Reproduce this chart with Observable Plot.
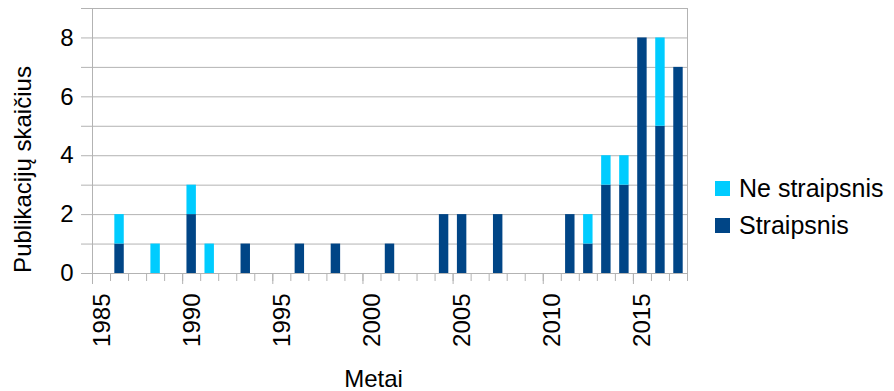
<!DOCTYPE html>
<html>
<head>
<meta charset="utf-8">
<script src="https://cdn.jsdelivr.net/npm/d3@7"></script>
<script src="https://cdn.jsdelivr.net/npm/@observablehq/plot@0.6"></script>
<style>
  body { margin: 0; background: #fff; font-family: "Liberation Sans", Arial, sans-serif; }
  #chart { position: relative; width: 894px; height: 391px; }
  .legend { position: absolute; left: 715px; top: 170px; font-size: 25px; color: #000; }
  .legend .row { display: flex; align-items: center; height: 37px; }
  .legend .sw { width: 15px; height: 15px; margin-right: 9px; }
</style>
</head>
<body>
<div id="chart"></div>
<script>
// Publications per year, split by type
const years        = [1986, 1988, 1990, 1991, 1993, 1996, 1998, 2001, 2004, 2005, 2007, 2011, 2012, 2013, 2014, 2015, 2016, 2017];
const straipsnis   = [1,    0,    2,    0,    1,    1,    1,    1,    2,    2,    2,    2,    1,    3,    3,    8,    5,    7];
const neStraipsnis = [1,    1,    1,    1,    0,    0,    0,    0,    0,    0,    0,    0,    1,    1,    1,    0,    3,    0];

const seriesNames  = ["Straipsnis", "Ne straipsnis"];
const seriesColors = ["#004586", "#00ccff"];
const legendOrder  = ["Ne straipsnis", "Straipsnis"];

const yearLabels  = [1985, 1990, 1995, 2000, 2005, 2010, 2015];
const countLabels = [0, 2, 4, 6, 8];
const yTitle = "Publikacijų skaičius";
const xTitle = "Metai";

const rows = years.flatMap((year, i) => [
  {year, type: seriesNames[0], count: straipsnis[i]},
  {year, type: seriesNames[1], count: neStraipsnis[i]}
]);

const grey = "#b3b3b3";

const chart = Plot.plot({
  width: 894,
  height: 391,
  marginLeft: 92,
  marginRight: 207,
  marginTop: 8,
  marginBottom: 118,
  style: {fontFamily: "'Liberation Sans', Arial, sans-serif", fontSize: "24px", color: "#000", background: "#fff", overflow: "visible"},
  x: {domain: [1985, 2018], axis: null},
  y: {domain: [0, 9], axis: null},
  color: {domain: seriesNames, range: seriesColors},
  marks: [
    Plot.gridY(d3.range(0, 10), {stroke: grey, strokeOpacity: 1}),
    Plot.ruleX([1985, 2018], {stroke: grey}),
    // minor and major ticks
    Plot.axisY({ticks: d3.range(0, 10), tickSize: 11, text: null, label: null, stroke: grey}),
    Plot.axisX({ticks: d3.range(1985, 2019), tickSize: 8, text: null, label: null, stroke: grey}),
    Plot.axisX({ticks: yearLabels, tickSize: 11, text: null, label: null, stroke: grey}),
    // stacked bars, one per year
    Plot.rectY(rows, Plot.stackY({
      x1: "year",
      x2: d => d.year + 1,
      y: "count",
      fill: "type",
      order: seriesNames,
      insetLeft: 4.3,
      insetRight: 4.3
    })),
    // tick labels
    Plot.text(countLabels, {y: d => d, frameAnchor: "left", text: d => String(d), textAnchor: "end", dx: -19, fill: "#000"}),
    Plot.text(yearLabels, {x: d => d, frameAnchor: "bottom", text: d => String(d), rotate: -90, textAnchor: "end", lineAnchor: "top", dy: 20, fill: "#000"}),
    // axis titles
    Plot.text([yTitle], {frameAnchor: "left", rotate: -90, textAnchor: "middle", lineAnchor: "top", dx: -78.5, dy: 28.5, fill: "#000"}),
    Plot.text([xTitle], {frameAnchor: "bottom", textAnchor: "middle", lineAnchor: "middle", dx: -16.5, dy: 106, fill: "#000"})
  ]
});

const root = document.getElementById("chart");
root.appendChild(chart);

const legend = document.createElement("div");
legend.className = "legend";
for (const name of legendOrder) {
  const row = document.createElement("div");
  row.className = "row";
  const sw = document.createElement("span");
  sw.className = "sw";
  sw.style.background = seriesColors[seriesNames.indexOf(name)];
  const label = document.createElement("span");
  label.textContent = name;
  row.append(sw, label);
  legend.appendChild(row);
}
root.appendChild(legend);
</script>
</body>
</html>
